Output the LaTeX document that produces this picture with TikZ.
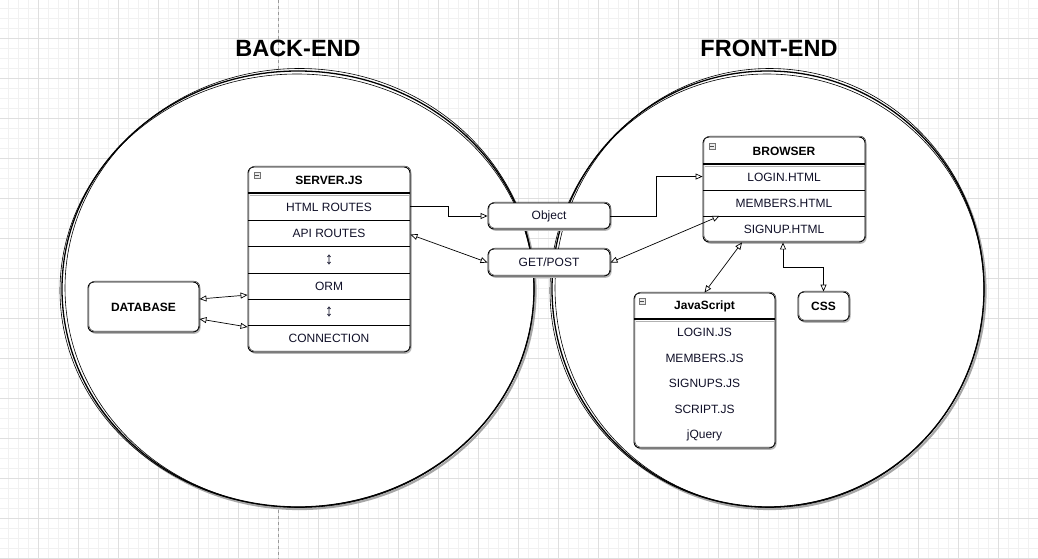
\documentclass[tikz,border=0pt]{standalone}
\usepackage{fontspec}
\setmainfont{Liberation Sans}
\usetikzlibrary{arrows.meta,calc}
\definecolor{gmin}{HTML}{F1F1F1}
\definecolor{gmaj}{HTML}{DFDFDF}
\definecolor{txt}{HTML}{101028}
\begin{document}
\begin{tikzpicture}[x=1pt,y=-1pt,
  skbox/.style={draw=black, line width=0.9pt, fill=white, rounded corners=6pt, inner sep=0pt,
    preaction={fill=black!28, transform canvas={shift={(1.6pt,-1.8pt)}}},
    postaction={draw=black!80, line width=0.5pt, transform canvas={shift={(0.9pt,0.8pt)}}}},
  rowtxt/.style={font=\fontsize{12}{14}\selectfont, text=txt, inner sep=0pt},
  arrtxt/.style={font=\fontsize{17}{18}\selectfont, text=txt, inner sep=0pt},
  hdtxt/.style={font=\bfseries\fontsize{12}{14}\selectfont, text=black, inner sep=0pt},
  bigtxt/.style={font=\bfseries\fontsize{23.5}{28}\selectfont, text=black, inner sep=0pt},
  rowline/.style={line width=0.7pt, draw=black},
  hdline/.style={line width=1.2pt, draw=black},
  hdshade/.style={line width=1pt, draw=black!30},
  icon/.style={draw=black!55, fill=black!8, line width=0.4pt},
  tipo/.tip={Triangle[open, length=7pt, width=6pt, fill=white]},
  arr/.style={line width=0.7pt, -tipo},
  darr/.style={line width=0.7pt, tipo-tipo},
  ring/.style={draw=black, line width=1.3pt, fill=white},
  ringb/.style={draw=black, line width=0.6pt},
  ringsh/.style={draw=black!35, line width=2.2pt}
]
\useasboundingbox (0,0) rectangle (1038,559);
\fill[white] (0,0) rectangle (1038,559);
% grid
\foreach \x in {-2,8,...,1040} \draw[gmin, line width=0.6pt] (\x,0) -- (\x,559);
\foreach \y in {-2,8,...,560} \draw[gmin, line width=0.6pt] (0,\y) -- (1038,\y);
\foreach \x in {38,78,...,1040} \draw[gmaj, line width=0.8pt] (\x,0) -- (\x,559);
\foreach \y in {38,78,...,560} \draw[gmaj, line width=0.8pt] (0,\y) -- (1038,\y);
\draw[black!40, line width=0.5pt, dash pattern=on 3pt off 3pt] (278,0) -- (278,559);

% circles
\draw[ringsh] (299.5,291) ellipse [x radius=236pt, y radius=218pt];
\draw[ring] (298,289) ellipse [x radius=236pt, y radius=218pt];
\draw[ringb] (299.5,288) ellipse [x radius=234.5pt, y radius=219.5pt];
\draw[ringb] (297,290.5) ellipse [x radius=237pt, y radius=216.5pt];

\draw[ringsh] (769.5,291) ellipse [x radius=216pt, y radius=218pt];
\draw[ring] (768,289) ellipse [x radius=216pt, y radius=218pt];
\draw[ringb] (769.5,288) ellipse [x radius=214.5pt, y radius=219.5pt];
\draw[ringb] (767,290.5) ellipse [x radius=217pt, y radius=216.5pt];

% titles
\node[bigtxt] (tback) at (298,48) {BACK-END};
\node[bigtxt] (tfront) at (769,48) {FRONT-END};

% SERVER.JS
\node[skbox, minimum width=162pt, minimum height=185pt] (srv) at (329,259.5) {};
\draw[hdshade] (249.5,195.5) -- (409,195.5);
\draw[hdline] (248,193) -- (410,193);
\foreach \yy in {220,246.5,273,299,325} \draw[rowline] (248,\yy) -- (410,\yy);
\draw[icon] (254,172) rectangle (260,178);
\draw[black!70, line width=0.5pt] (255.3,175) -- (258.7,175);
\node[hdtxt] (srvt) at (329,180.5) {SERVER.JS};
\node[rowtxt] (srvhtml) at (329,207) {HTML ROUTES};
\node[rowtxt] (srvapi) at (329,233.5) {API ROUTES};
\node[arrtxt] (srva1) at (329,260) {↕};
\node[rowtxt] (srvorm) at (329,286) {ORM};
\node[arrtxt] (srva2) at (329,312) {↕};
\node[rowtxt] (srvconn) at (329,338.5) {CONNECTION};

% DATABASE
\node[skbox, minimum width=111pt, minimum height=50pt, hdtxt] (db) at (143.5,307) {DATABASE};

% Object and GET/POST
\node[skbox, minimum width=122pt, minimum height=26pt, rowtxt] (obj) at (549,216) {Object};
\node[skbox, minimum width=122pt, minimum height=27pt, rowtxt] (gp) at (549,262.5) {GET/POST};

% BROWSER
\node[skbox, minimum width=162pt, minimum height=105pt] (br) at (784,189.5) {};
\draw[hdshade] (704.5,166.5) -- (864,166.5);
\draw[hdline] (703,164) -- (865,164);
\foreach \yy in {190,216} \draw[rowline] (703,\yy) -- (865,\yy);
\draw[icon] (709,143) rectangle (715,149);
\draw[black!70, line width=0.5pt] (710.3,146) -- (713.7,146);
\node[hdtxt] (brt) at (784,151) {BROWSER};
\node[rowtxt] (brlogin) at (784,177) {LOGIN.HTML};
\node[rowtxt] (brmem) at (784,203) {MEMBERS.HTML};
\node[rowtxt] (brsign) at (784,229) {SIGNUP.HTML};

% JavaScript
\node[skbox, minimum width=141pt, minimum height=155pt] (js) at (704.5,370.5) {};
\draw[hdshade] (635.5,321.5) -- (774,321.5);
\draw[hdline] (634,319) -- (775,319);
\draw[icon] (639,298) rectangle (645,304);
\draw[black!70, line width=0.5pt] (640.3,301) -- (643.7,301);
\node[hdtxt] (jst) at (704.5,306) {JavaScript};
\node[rowtxt] (jslogin) at (704.5,332) {LOGIN.JS};
\node[rowtxt] (jsmem) at (704.5,358) {MEMBERS.JS};
\node[rowtxt] (jssign) at (704.5,383.5) {SIGNUPS.JS};
\node[rowtxt] (jsscript) at (704.5,409) {SCRIPT.JS};
\node[rowtxt] (jsjq) at (704.5,435) {jQuery};

% CSS
\node[skbox, minimum width=51pt, minimum height=29pt, hdtxt] (css) at (823.5,306.5) {CSS};

% connectors
\draw[arr] ($(srv.north east)+(0,40)$) -- ++(38,0) |- (obj.west);
\draw[darr] ($(srv.north east)+(0,68)$) -- (gp.west);
\draw[arr] (obj.east) -- ++(46,0) |- ($(br.north west)+(0,40)$);
\draw[darr] (gp.east) -- ($(br.west)+(17,26.5)$);
\draw[darr] ($(br.south)+(-42,0)$) -- (js.north);
\draw[darr] ($(br.south)+(-1,0)$) -- ++(0,25) -| (css.north);
\draw[darr] ($(db.east)+(0,-8)$) -- ($(srv.west)+(0,35.5)$);
\draw[darr] ($(db.east)+(0,12)$) -- ($(srv.west)+(0,67.5)$);
\end{tikzpicture}
\end{document}
